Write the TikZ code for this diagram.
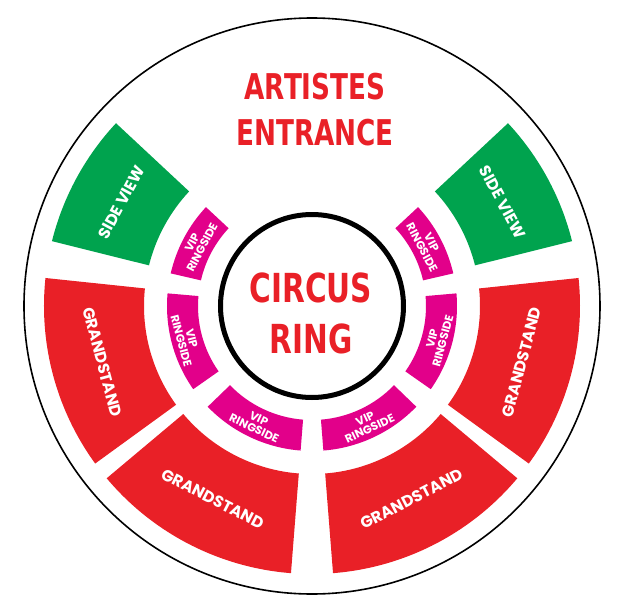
\documentclass[tikz,border=0pt]{standalone}
\usepackage{fontspec}
\usepackage{tikz}
\usetikzlibrary{calc}
\setmainfont{Liberation Sans}
\newfontfamily\posterfont[FakeStretch=0.74]{DejaVu Sans}
\newfontfamily\seatfont{Poppins}
\definecolor{circusred}{RGB}{233, 32, 39}
\definecolor{sidegreen}{RGB}{0, 163, 78}
\definecolor{vipmagenta}{RGB}{226, 0, 138}

% annular block: colour, start angle, end angle, inner r, outer r
\newcommand{\seatblock}[5]{%
  \fill[#1] (#2:#4) arc[start angle=#2, end angle=#3, radius=#4]
    -- (#3:#5) arc[start angle=#3, end angle=#2, radius=#5] -- cycle;}

\begin{document}
\begin{tikzpicture}[x=1pt, y=1pt,
    bigtitle/.style={text=circusred, align=center, inner sep=0pt},
    seatlabel/.style={text=white, font=\seatfont\bfseries\fontsize{16}{16}\selectfont},
    viplabel/.style={text=white, align=center, inner sep=0pt,
        font=\seatfont\bfseries\fontsize{11.5}{11}\selectfont}]
    \useasboundingbox (-312,-308) rectangle (312,306);
    % outer boundary and ring
    \draw[line width=1.6pt] (0,0) circle[radius=288];
    \draw[line width=5pt] (0,0) circle[radius=91.5];

    % side view blocks
    \foreach \a/\b/\name in {137/166/sideleft, 14/43/sideright} {
        \seatblock{sidegreen}{\a}{\b}{168}{268}
        \node[seatlabel, rotate={(\a+\b)/2-90}] (\name) at ({(\a+\b)/2}:217) {SIDE VIEW};
    }
    % grandstands
    \foreach \a/\b/\name in {174/216/standleft, 220/265.5/standlowleft, 274.5/320/standlowright, -36/6/standright} {
        \seatblock{circusred}{\a}{\b}{168}{268}
        \node[seatlabel, rotate={(\a+\b)/2+90}] (\name) at ({(\a+\b)/2}:217) {GRANDSTAND};
    }
    % vip ringside
    \foreach \a/\b/\turn/\name in {137/167/-90/vipupleft, 13/43/-90/vipupright, 175/215/90/vipleft,
            -35/5/90/vipright, 224/265.5/90/viplowleft, 274.5/316/90/viplowright} {
        \seatblock{vipmagenta}{\a}{\b}{114}{145}
        \node[viplabel, rotate={(\a+\b)/2+(\turn)}] (\name) at ({(\a+\b)/2}:130) {VIP\\RINGSIDE};
    }

    \node[bigtitle, font=\posterfont\bfseries\fontsize{35.5}{46}\selectfont] (entrance) at (3,196) {ARTISTES\\ENTRANCE};
    \node[bigtitle, font=\posterfont\bfseries\fontsize{40}{51}\selectfont] (ring) at (-1,-7) {CIRCUS\\RING};
\end{tikzpicture}
\end{document}
